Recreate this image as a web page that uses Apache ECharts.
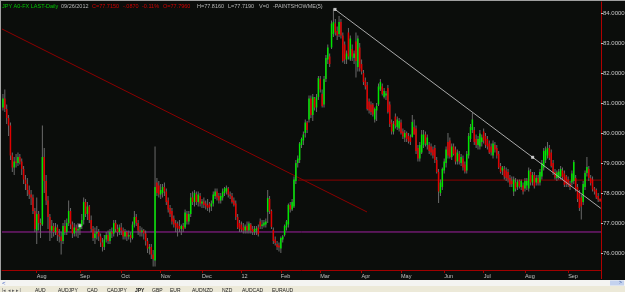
<!DOCTYPE html>
<html><head><meta charset="utf-8">
<script src="https://cdn.jsdelivr.net/npm/echarts@6/dist/echarts.min.js"></script>
<style>html,body{margin:0;padding:0;background:#0b0d0b;overflow:hidden}#c{width:625px;height:292px}</style>
</head><body><div id="c"></div>
<script>
// ---- data ----
const opens = [
80.85,81.15,80.80,80.50,80.25,79.25,78.85,79.05,79.00,79.20,
79.05,78.80,78.45,78.30,78.10,77.95,77.85,77.40,76.75,77.30,
77.00,76.95,79.20,78.40,77.75,77.20,76.75,76.90,76.70,76.85,
76.60,76.55,76.40,76.90,76.70,77.00,77.40,76.95,76.65,76.85,
76.75,76.80,76.90,77.10,77.70,77.30,77.55,77.10,76.80,76.50,
76.65,76.70,76.55,76.35,76.20,76.45,76.60,76.40,76.70,76.65,
77.00,76.80,76.70,76.85,76.75,76.55,76.70,76.55,76.60,76.50,
76.95,77.20,77.00,76.75,76.70,76.75,76.65,76.40,76.15,76.20,
75.95,75.75,78.35,78.25,77.95,78.00,78.20,78.05,77.75,77.50,
77.40,77.15,77.00,76.98,76.90,76.80,76.90,76.85,77.30,77.05,
77.30,77.85,77.70,77.95,77.70,77.90,77.65,77.72,77.65,77.60,
77.65,77.55,77.65,77.90,78.05,77.90,77.75,77.85,78.00,78.05,
78.15,77.95,77.90,77.75,77.65,77.20,77.00,76.95,76.85,76.75,
76.90,76.75,76.95,76.80,76.70,76.75,76.85,77.05,76.90,76.92,
76.95,77.37,77.80,77.40,76.77,76.45,76.30,76.25,76.15,76.45,
76.60,76.85,76.95,77.60,77.45,77.55,78.40,79.00,79.10,79.60,
79.75,80.00,80.35,80.45,81.15,80.60,81.15,80.85,81.20,81.80,
81.30,80.95,81.80,82.45,82.55,82.85,83.30,83.65,83.40,83.30,
83.70,83.25,82.95,82.45,83.35,82.45,82.80,82.50,83.05,82.20,
82.85,82.30,82.00,81.75,81.60,81.05,80.95,80.95,80.45,80.75,
80.95,81.45,81.55,81.20,81.25,81.50,80.95,80.35,80.05,80.55,
80.20,80.15,80.35,80.05,79.85,80.00,79.90,79.85,79.87,80.20,
80.15,79.50,79.15,79.35,79.60,79.95,79.60,79.60,79.55,79.45,
79.50,79.10,78.70,78.00,78.20,78.75,79.00,79.70,79.75,79.20,
79.55,79.45,79.05,79.30,79.00,79.15,78.95,78.75,79.25,79.80,
80.10,80.10,79.80,79.60,79.55,79.70,80.05,79.90,79.80,79.65,
79.55,79.25,79.60,79.50,79.30,78.90,78.75,78.80,78.75,78.70,
78.50,78.40,78.05,78.35,78.20,78.40,78.20,78.25,78.15,78.25,
78.15,78.70,78.35,78.60,78.35,78.50,78.35,78.55,78.85,79.10,
79.25,79.50,79.35,79.00,78.70,78.50,78.52,78.55,78.75,78.65,
78.55,78.45,78.32,78.35,78.40,78.50,78.20,78.00,77.85,77.70,
78.20,78.67,78.80,78.50,78.45,78.15,78.10,77.90,77.80];
const highs = [
81.30,81.45,80.95,80.60,80.35,79.35,79.20,79.30,79.35,79.30,
79.15,78.90,78.60,78.50,78.25,78.10,77.95,77.50,77.85,77.40,
77.15,80.25,79.50,78.60,77.90,77.30,77.10,77.00,77.00,76.95,
76.80,76.70,77.00,77.10,77.15,77.75,77.50,77.05,77.00,76.95,
77.00,77.00,77.30,77.85,77.80,77.70,77.60,77.25,76.90,76.85,
76.90,76.80,76.65,76.50,76.60,76.70,76.75,76.80,76.85,77.10,
77.10,76.95,76.95,77.00,76.85,76.80,76.75,76.75,76.70,77.05,
77.40,77.30,77.10,76.90,76.85,76.80,76.75,76.50,76.30,76.30,
76.10,79.55,78.50,78.40,78.30,78.30,78.35,78.15,77.85,77.60,
77.50,77.25,77.10,77.05,77.10,76.95,77.00,77.45,77.40,77.40,
78.00,78.05,78.10,78.05,78.05,78.00,77.80,77.85,77.75,77.80,
77.70,77.75,78.05,78.15,78.15,78.00,78.00,78.15,78.20,78.25,
78.20,78.05,78.00,77.85,77.75,77.30,77.10,77.05,77.00,76.95,
77.05,77.05,77.00,76.90,76.90,76.90,76.95,77.15,77.10,77.10,
77.15,78.10,77.90,77.45,76.85,76.55,76.40,76.35,76.55,76.60,
76.95,77.10,77.65,77.70,77.80,78.55,79.10,79.25,79.70,79.85,
80.05,80.45,80.40,81.25,81.25,81.30,81.20,81.30,81.90,81.90,
81.45,81.90,82.60,82.95,82.65,83.75,84.15,83.80,83.55,83.90,
83.80,83.35,83.05,82.75,83.50,83.25,82.95,82.75,83.35,83.25,
83.00,82.45,82.10,81.85,81.70,81.15,81.05,81.00,80.85,81.00,
81.65,81.80,81.65,81.50,81.40,81.60,81.05,80.45,80.40,80.65,
80.55,80.50,80.45,80.15,80.10,80.05,80.00,79.95,80.60,80.45,
80.25,79.60,79.70,80.10,80.10,80.05,79.95,79.70,79.65,79.55,
79.60,79.20,78.80,78.45,78.85,79.15,79.55,80.00,79.85,79.65,
79.65,79.55,79.45,79.40,79.30,79.25,79.05,79.40,80.00,80.30,
80.67,80.20,79.95,79.90,80.10,79.95,80.15,80.00,79.90,79.75,
79.65,79.75,79.70,79.60,79.40,79.00,78.90,78.90,78.85,78.80,
78.60,78.55,78.55,78.50,78.45,78.45,78.45,78.35,78.50,78.50,
78.85,78.80,78.70,78.70,78.60,78.60,78.80,79.10,79.50,79.55,
79.70,79.60,79.45,79.10,78.80,78.75,78.80,78.90,78.85,78.75,
78.60,78.55,78.40,78.75,79.10,78.60,78.30,78.10,77.95,78.40,
78.75,79.20,78.90,78.60,78.55,78.20,78.15,78.00,77.82];
const lows = [
80.75,80.70,80.30,79.90,79.10,78.70,78.60,78.85,78.90,78.95,
78.60,78.30,78.10,77.90,77.80,77.60,77.30,76.70,76.30,76.75,
76.50,76.90,78.00,77.60,76.80,76.40,76.50,76.55,76.60,76.40,
76.35,75.95,76.30,76.60,76.60,76.90,76.80,76.50,76.55,76.55,
76.50,76.60,76.80,76.95,77.20,77.10,77.00,76.70,76.40,76.30,
76.45,76.40,76.20,76.05,76.10,76.35,76.30,76.30,76.50,76.55,
76.70,76.55,76.60,76.60,76.45,76.45,76.40,76.45,76.35,76.45,
76.85,76.90,76.60,76.55,76.55,76.45,76.25,76.00,75.95,75.80,
75.55,75.55,77.90,77.85,77.80,77.85,77.90,77.60,77.35,77.20,
76.95,76.85,76.70,76.55,76.70,76.60,76.70,76.80,76.95,76.95,
77.20,77.60,77.55,77.60,77.55,77.55,77.50,77.50,77.45,77.40,
77.35,77.40,77.55,77.80,77.75,77.65,77.65,77.75,77.90,77.95,
77.85,77.80,77.65,77.55,77.10,76.80,76.70,76.70,76.65,76.65,
76.65,76.65,76.65,76.60,76.60,76.60,76.55,76.80,76.80,76.85,
76.85,77.00,77.30,76.80,76.30,76.25,76.10,76.05,76.00,76.35,
76.55,76.75,76.85,77.35,77.40,77.50,78.30,78.85,79.00,79.50,
79.60,79.85,80.00,80.35,80.50,80.40,80.75,80.70,81.10,81.35,
80.85,80.85,81.70,82.30,82.20,82.80,83.20,83.25,83.10,83.20,
83.15,82.35,82.30,82.30,82.45,82.40,82.40,82.30,81.85,82.05,
82.05,81.95,81.60,81.45,80.75,80.65,80.60,80.55,80.35,80.40,
80.90,81.40,81.25,81.15,81.10,80.65,80.20,79.95,79.95,80.15,
80.10,80.05,79.95,79.80,79.70,79.70,79.65,79.60,79.85,79.95,
79.30,79.05,79.05,79.30,79.50,79.55,79.45,79.30,79.25,79.15,
79.00,78.65,77.67,77.90,78.10,78.65,78.85,79.15,79.15,79.10,
79.25,78.95,78.95,78.95,78.90,78.75,78.65,78.65,79.15,79.70,
80.00,79.60,79.50,79.45,79.45,79.55,79.65,79.50,79.45,79.30,
79.25,79.15,79.35,79.15,78.80,78.65,78.60,78.45,78.40,78.35,
78.20,78.20,77.90,78.05,78.10,78.15,78.10,77.95,78.05,78.10,
78.05,78.25,78.25,78.15,78.25,78.25,78.25,78.45,78.75,79.00,
79.15,79.10,78.85,78.60,78.45,78.40,78.45,78.45,78.45,78.20,
78.20,78.20,78.10,78.25,78.30,78.05,77.70,77.40,77.12,77.60,
78.10,78.55,78.40,78.25,78.05,77.95,77.80,77.70,77.72];
const closes = [
81.15,80.80,80.50,80.25,79.25,78.85,79.05,79.00,79.20,79.05,
78.80,78.45,78.30,78.10,77.95,77.85,77.40,76.80,77.30,77.00,
76.95,79.20,78.40,77.75,77.20,76.75,76.90,76.70,76.85,76.60,
76.55,76.40,76.90,76.70,77.00,77.40,76.95,76.65,76.85,76.75,
76.80,76.90,77.10,77.70,77.30,77.55,77.10,76.80,76.50,76.65,
76.70,76.55,76.35,76.20,76.45,76.60,76.40,76.70,76.65,77.00,
76.80,76.70,76.85,76.75,76.55,76.70,76.55,76.60,76.50,76.95,
77.20,77.00,76.75,76.70,76.75,76.65,76.40,76.15,76.20,75.95,
75.80,78.20,78.00,77.95,78.10,78.20,78.05,77.70,77.45,77.30,
77.05,76.95,76.85,76.82,76.80,76.90,76.80,77.35,77.05,77.30,
77.85,77.70,78.00,77.70,77.95,77.65,77.72,77.60,77.55,77.50,
77.52,77.65,77.95,78.05,77.85,77.75,77.90,78.05,78.15,78.17,
77.95,77.90,77.70,77.60,77.20,76.85,76.80,76.78,76.75,76.88,
76.75,76.98,76.75,76.70,76.80,76.82,76.62,76.88,76.95,77.02,
77.05,77.83,77.40,76.87,76.40,76.33,76.20,76.18,76.50,76.55,
76.90,77.05,77.60,77.45,77.70,78.45,79.00,79.15,79.65,79.80,
79.95,80.35,80.10,81.15,80.60,81.20,80.85,81.20,81.83,81.45,
80.90,81.80,82.50,82.85,82.30,83.65,83.70,83.35,83.25,83.70,
83.25,82.40,82.45,82.65,82.55,83.15,82.55,82.65,82.40,83.15,
82.15,82.05,81.70,81.55,80.80,80.75,80.70,80.62,80.80,80.90,
81.55,81.70,81.30,81.40,81.32,80.70,80.30,80.05,80.30,80.25,
80.45,80.40,80.00,79.88,80.00,79.80,79.72,79.70,80.37,79.95,
79.40,79.15,79.60,79.95,79.95,79.65,79.85,79.40,79.35,79.25,
79.10,78.70,78.05,78.35,78.80,79.05,79.45,79.25,79.20,79.55,
79.30,79.05,79.35,79.05,79.20,78.85,78.72,79.30,79.90,80.20,
80.45,79.70,79.60,79.80,79.98,79.85,79.75,79.60,79.55,79.35,
79.35,79.65,79.45,79.25,78.85,78.70,78.85,78.55,78.50,78.45,
78.28,78.30,78.45,78.15,78.38,78.22,78.40,78.05,78.40,78.40,
78.75,78.35,78.60,78.22,78.50,78.32,78.70,79.00,79.40,79.45,
79.50,79.17,78.90,78.67,78.52,78.68,78.72,78.80,78.53,78.27,
78.30,78.27,78.20,78.65,79.03,78.12,77.80,77.50,77.55,78.30,
78.67,78.87,78.50,78.33,78.12,78.05,77.85,77.78,77.72];

const startDate = '2011-07-06';
const endDate = '2012-09-26';
const holidays = ['2011-12-26', '2012-01-02'];
const monthAbbr = ['Jan','Feb','Mar','Apr','May','Jun','Jul','Aug','Sep','Oct','Nov','Dec'];
const yTickValues = [76, 77, 78, 79, 80, 81, 82, 83, 84];

// drawn studies (x in bar index units, y in price)
const trendRed = [[-0.5, 83.467], [193.9, 77.367]];
const trendGrey = [[176.85, 84.12], [318.4, 77.49]];
const levelRed = [[157.1, 78.43], [318.5, 78.43]];
const levelPurple = [[-0.5, 76.70], [318.5, 76.70]];
const handles = [[176.85, 84.12], [282.1, 79.19], [41.0, 76.91]];

const headerTexts = ['JPY A0-FX LAST-Daily', '09/26/2012', 'C=77.7150', '-.0870', '-0.11%', 'O=77.7960', 'H=77.8160', 'L=77.7190', 'V=0', '-PAINTSHOWME(5)'];
const tabNames = ['AUD', 'AUDJPY', 'CAD', 'CADJPY', 'JPY', 'GBP', 'EUR', 'AUDNZD', 'NZD', 'AUDCAD', 'EURAUD'];

// ---- build ----
const dates = [];
{
  let t = Date.parse(startDate + 'T00:00:00Z');
  const tEnd = Date.parse(endDate + 'T00:00:00Z');
  while (t <= tEnd) {
    const d = new Date(t);
    const wd = d.getUTCDay();
    const s = d.toISOString().slice(0, 10);
    if (wd !== 0 && wd !== 6 && holidays.indexOf(s) < 0) dates.push(s);
    t += 86400000;
  }
}
const N = dates.length;
const isFirst = dates.map((d, i) => i > 0 && d.slice(5, 7) !== dates[i - 1].slice(5, 7));
function monthLabel(d) { const m = +d.slice(5, 7); return m === 1 ? d.slice(2, 4) : monthAbbr[m - 1]; }

const candleData = dates.map((d, i) => [i, opens[i], closes[i], lows[i], highs[i]]);

const FONT = 'Liberation Sans, Arial, sans-serif';
const headerX = [2, 61, 92, 123, 142, 163, 197, 228, 259, 273];
const headerColors = ['#00c800', '#b8b8b8', '#d00000', '#d00000', '#d00000', '#d00000', '#b8b8b8', '#b8b8b8', '#b8b8b8', '#b8b8b8'];
const tabX = [35, 58, 87, 107, 135, 152, 170, 192, 222, 242, 272];

const graphics = [];
graphics.push({type:'rect', shape:{x:0, y:0, width:625, height:1}, style:{fill:'#a0a0a0'}, z:20, silent:true});
graphics.push({type:'rect', shape:{x:0, y:0, width:1, height:280}, style:{fill:'#a0a0a0'}, z:20, silent:true});
headerTexts.forEach((t, k) => graphics.push({type:'text', x:headerX[k], y:6, z:20, silent:true,
  style:{text:t, fill:headerColors[k], font:'5.5px ' + FONT, verticalAlign:'middle', align:'left'}}));
graphics.push({type:'rect', shape:{x:601, y:270, width:1, height:9}, style:{fill:'#b00000'}, z:20, silent:true});
graphics.push({type:'rect', shape:{x:0, y:280, width:625, height:6}, style:{fill:'#f4f4f2'}, z:20, silent:true});
graphics.push({type:'text', x:2, y:283, z:21, silent:true, style:{text:'<', fill:'#4060c0', font:'6px ' + FONT, verticalAlign:'middle'}});
graphics.push({type:'rect', shape:{x:610, y:280.5, width:14, height:5}, style:{fill:'#c4d2ee'}, z:21, silent:true});
graphics.push({type:'text', x:619, y:283, z:22, silent:true, style:{text:'>', fill:'#3050a0', font:'5px ' + FONT, verticalAlign:'middle'}});
graphics.push({type:'rect', shape:{x:0, y:286, width:625, height:6}, style:{fill:'#ece9d8'}, z:20, silent:true});
graphics.push({type:'text', x:2, y:288, z:21, silent:true, style:{text:'|◂ ◂ ▸ ▸|', fill:'#606060', font:'5px ' + FONT, verticalAlign:'top'}});
tabNames.forEach((t, k) => graphics.push({type:'text', x:tabX[k], y:288, z:21, silent:true,
  style:{text:t, fill:'#202020', font:(t === 'JPY' ? 'bold ' : '') + '5px ' + FONT, verticalAlign:'top'}}));

const chart = echarts.init(document.getElementById('c'), null, {renderer:'canvas', width:625, height:292});
chart.setOption({
  animation:false,
  backgroundColor:'#0b0d0b',
  grid:{left:2, right:24, top:2, bottom:22, containLabel:false, outerBoundsMode:'none'},
  xAxis:[{
    type:'category', data:dates, boundaryGap:true,
    axisLine:{show:true, lineStyle:{color:'#a00000', width:1}},
    axisTick:{show:true, alignWithLabel:true, interval:(i) => isFirst[i], length:3, lineStyle:{color:'#a00000'}},
    axisLabel:{interval:(i) => isFirst[i], formatter:(v) => monthLabel(v), color:'#c0c0c0', fontSize:5.5, fontFamily:FONT, align:'left', margin:3, hideOverlap:false},
    splitLine:{show:false}
  },{
    type:'value', min:-0.5, max:N - 0.5, show:false
  }],
  yAxis:{
    type:'value', position:'right', min:75.4333, max:84.3667, scale:true,
    axisLine:{show:true, onZero:false, lineStyle:{color:'#b00000', width:1}},
    axisTick:{show:true, customValues:yTickValues, length:2, lineStyle:{color:'#c0c0c0'}},
    axisLabel:{customValues:yTickValues, formatter:(v) => Number(v).toFixed(4), color:'#c8c8c8', fontSize:6, fontFamily:FONT, margin:2},
    splitLine:{show:false}
  },
  series:[
    {type:'line', xAxisIndex:1, data:levelPurple, symbol:'none', lineStyle:{color:'#a020a0', width:1}, z:1, silent:true},
    {type:'line', xAxisIndex:1, data:levelRed, symbol:'none', lineStyle:{color:'#8a0000', width:1}, z:1, silent:true},
    {type:'line', xAxisIndex:1, data:trendRed, symbol:'none', lineStyle:{color:'#8a0000', width:1}, z:1, silent:true},
    {
      type:'custom', xAxisIndex:0, data:candleData, z:2, silent:true,
      encode:{x:0, y:[1,2,3,4]},
      renderItem:function(params, api){
        const i = api.value(0), o = api.value(1), c = api.value(2), l = api.value(3), h = api.value(4);
        const ph = api.coord([i, h]), pl = api.coord([i, l]), po = api.coord([i, o]), pc = api.coord([i, c]);
        const cx = ph[0];
        const up = c >= o;
        const top = Math.min(po[1], pc[1]);
        const bh = Math.max(1, Math.abs(po[1] - pc[1]));
        return {type:'group', children:[
          {type:'rect', shape:{x:cx - 0.5, y:ph[1], width:1, height:Math.max(1, pl[1] - ph[1])}, style:{fill:'#6a6a6a'}},
          {type:'rect', shape:{x:cx - 0.75, y:top, width:1.5, height:bh}, style:{fill: up ? '#00e600' : '#e00000'}}
        ]};
      }
    },
    {type:'line', xAxisIndex:1, data:trendGrey, symbol:'none', lineStyle:{color:'#aaaaaa', width:1}, z:3, silent:true},
    {type:'scatter', xAxisIndex:1, data:handles, symbol:'rect', symbolSize:3, itemStyle:{color:'#e8e8e8'}, z:4, silent:true}
  ],
  graphic:graphics
});
</script>
</body></html>
